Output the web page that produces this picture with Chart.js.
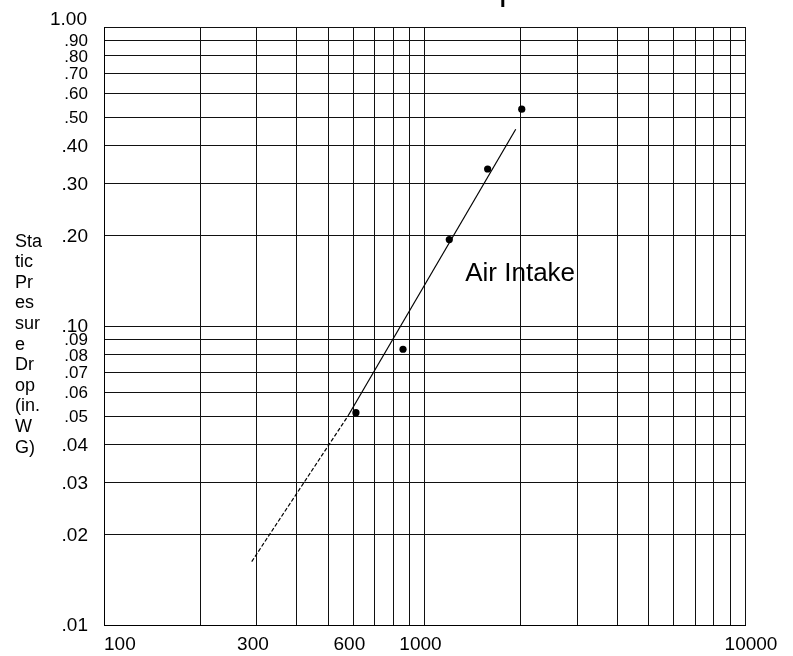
<!DOCTYPE html>
<html>
<head>
<meta charset="utf-8">
<script src="https://cdn.jsdelivr.net/npm/chart.js@4.4.1/dist/chart.umd.min.js"></script>
<style>
  html, body { margin: 0; padding: 0; background: #fff; }
  #wrap { width: 793px; height: 656px; }
</style>
</head>
<body>
<div id="wrap"><canvas id="chart" width="793" height="656"></canvas></div>
<script>
// measured points: airflow vs static pressure drop
const airflow = [611, 857, 1195, 1574, 2011]
const pressureDrop = [0.0513, 0.0836, 0.1945, 0.335, 0.531]

// fitted curve (solid) and its extrapolation (dashed)
const fitX = [577, 1926]
const fitY = [0.05, 0.455]
const extrapX = [289, 577]
const extrapY = [0.0163, 0.05]

const xLabels = [100, 300, 600, 1000, 10000]
const yTicks = [1, 0.9, 0.8, 0.7, 0.6, 0.5, 0.4, 0.3, 0.2, 0.1, 0.09, 0.08, 0.07, 0.06, 0.05, 0.04, 0.03, 0.02, 0.01]
const yLabels = ['1.00', '.90', '.80', '.70', '.60', '.50', '.40', '.30', '.20', '.10', '.09', '.08', '.07', '.06', '.05', '.04', '.03', '.02', '.01']
const yTitle = ['Sta', 'tic', 'Pr', 'es', 'sur', 'e', 'Dr', 'op', '(in.', 'W', 'G)']
const seriesName = 'Air Intake'
const seriesNameAt = { x: 1340, y: 0.141 }
const title = 'Static Pressure Drop'

const FONT = '"Liberation Sans", Arial, sans-serif'

const toPoints = (xs, ys) => xs.map((x, i) => ({ x: x, y: ys[i] }))

// plain log grid: 1..9 in every decade between min and max
function logGrid(scale) {
  const ticks = []
  const lo = Math.round(Math.log10(scale.min))
  const hi = Math.round(Math.log10(scale.max))
  for (let e = lo; e < hi; e++) {
    for (let m = 1; m <= 9; m++) ticks.push({ value: parseFloat((m * Math.pow(10, e)).toPrecision(6)) })
  }
  ticks.push({ value: scale.max })
  scale.ticks = ticks
}

// labels in the .50-.90 and .05-.09 range are printed a bit smaller
function yLabelSize(v) {
  const m = v / Math.pow(10, Math.floor(Math.log10(v) + 1e-9))
  return (m >= 5 && m <= 9.0001) ? 17 : 19
}

const labelsPlugin = {
  id: 'labels',
  afterDraw(chart) {
    const ctx = chart.ctx
    const xs = chart.scales.x
    const ys = chart.scales.y
    const area = chart.chartArea
    ctx.save()
    ctx.fillStyle = '#000'

    // y tick labels
    ctx.textAlign = 'right'
    yTicks.forEach((v, i) => {
      ctx.font = yLabelSize(v) + 'px ' + FONT
      const py = ys.getPixelForValue(v)
      if (i === 0) {
        ctx.textBaseline = 'alphabetic'
        ctx.fillText(yLabels[i], area.left - 17, py - 2)
      } else {
        ctx.textBaseline = 'middle'
        ctx.fillText(yLabels[i], area.left - 16, py + 1)
      }
    })

    // x tick labels
    ctx.font = '19px ' + FONT
    ctx.textBaseline = 'middle'
    const last = xLabels.length - 1
    xLabels.forEach((v, i) => {
      const px = xs.getPixelForValue(v)
      ctx.textAlign = i === 0 ? 'left' : 'center'
      const dx = i === 0 ? 0 : (i === last ? 6 : -4)
      ctx.fillText(String(v), px + dx, area.bottom + 20)
    })

    // wrapped y axis title
    ctx.font = '18px ' + FONT
    ctx.textAlign = 'left'
    ctx.textBaseline = 'alphabetic'
    yTitle.forEach((t, i) => ctx.fillText(t, 15, 246.5 + i * 20.6))

    // series name inside the plot
    ctx.font = '26px ' + FONT
    ctx.fillText(seriesName, xs.getPixelForValue(seriesNameAt.x), ys.getPixelForValue(seriesNameAt.y))

    // title, cropped by the top edge: only the descender of the p shows
    ctx.font = '34px ' + FONT
    const w = ctx.measureText(title.slice(0, -1)).width
    ctx.fillText(title, 499 - w, 0)

    ctx.restore()
  }
}

new Chart(document.getElementById('chart'), {
  type: 'scatter',
  data: {
    datasets: [{
      label: 'measured',
      data: toPoints(airflow, pressureDrop),
      pointStyle: 'circle',
      pointRadius: 3.6,
      pointBackgroundColor: '#000',
      pointBorderWidth: 0,
      showLine: false
    }, {
      label: 'fit',
      data: toPoints(fitX, fitY),
      showLine: true,
      borderColor: '#000',
      borderWidth: 1.2,
      pointRadius: 0
    }, {
      label: 'extrapolated',
      data: toPoints(extrapX, extrapY),
      showLine: true,
      borderColor: '#000',
      borderWidth: 1.2,
      borderDash: [4, 2],
      pointRadius: 0
    }]
  },
  options: {
    responsive: false,
    animation: false,
    devicePixelRatio: 1,
    layout: { padding: { left: 104, right: 48, top: 27, bottom: 31 } },
    plugins: {
      legend: { display: false },
      tooltip: { enabled: false }
    },
    scales: {
      x: {
        type: 'logarithmic',
        min: 100,
        max: 10000,
        afterBuildTicks: logGrid,
        ticks: { display: false },
        grid: { color: '#111', lineWidth: 1, drawTicks: false },
        border: { display: true, color: '#000', width: 1 }
      },
      y: {
        type: 'logarithmic',
        min: 0.01,
        max: 1,
        afterBuildTicks: logGrid,
        ticks: { display: false },
        grid: { color: '#111', lineWidth: 1, drawTicks: false },
        border: { display: true, color: '#000', width: 1 }
      }
    }
  },
  plugins: [labelsPlugin]
})
</script>
</body>
</html>
